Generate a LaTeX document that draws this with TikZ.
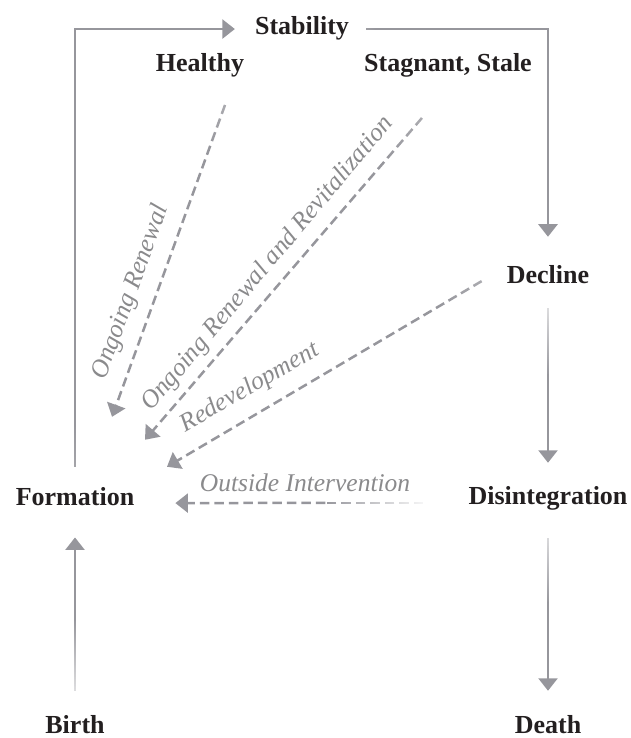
\documentclass[tikz,border=0pt]{standalone}
\usepackage{fontspec}
\setmainfont{Liberation Serif}
\usetikzlibrary{arrows.meta,calc,fadings}

\definecolor{flowgray}{RGB}{150,150,156}
\definecolor{notegray}{RGB}{138,138,140}
\definecolor{stageblack}{RGB}{35,31,32}

\pgfdeclareverticalshading{startfade}{100bp}{color(0bp)=(white); color(68bp)=(white); color(100bp)=(black!92)}
\tikzfading[name=fade top, shading=startfade]
\tikzfading[name=fade bottom, shading=startfade, shading angle=180]
\tikzfading[name=fade left, shading=startfade, shading angle=90]
\tikzfading[name=ramp top, top color=transparent!92, bottom color=transparent!0]
\tikzfading[name=ramp bottom, bottom color=transparent!92, top color=transparent!0]
\tikzfading[name=ramp right, right color=transparent!92, left color=transparent!0]

\begin{document}
\begin{tikzpicture}[
    x=1pt, y=-1pt,
    stage/.style={
        anchor=base,
        inner sep=0pt,
        text=stageblack,
        font=\fontsize{26}{30}\selectfont\bfseries
    },
    note/.style={
        inner sep=0pt,
        text=notegray,
        font=\fontsize{25.5}{30}\selectfont\itshape
    },
    flowline/.style={draw=flowgray, line width=2.5pt},
    flow/.style={flowline, -{Triangle[length=12.5pt, width=19pt]}},
    renewalline/.style={flowline, dash pattern=on 9.5pt off 5pt},
    renewal/.style={flow, dash pattern=on 9.5pt off 5pt}
]
\useasboundingbox (0,0) rectangle (630,738);

\node[stage] (stability) at (302,35) {Stability};
\node[stage] (healthy) at (200,72) {Healthy};
\node[stage] (stagnant) at (448,72) {Stagnant, Stale};
\node[stage] (decline) at (548,283) {Decline};
\node[stage] (disintegration) at (548,504) {Disintegration};
\node[stage] (formation) at (75,505) {Formation};
\node[stage] (birth) at (75,733) {Birth};
\node[stage] (death) at (548,733) {Death};

\node[note, rotate=70] (renewal) at (131,292) {Ongoing Renewal};
\node[note, rotate=50] (revitalization) at (268,264) {Ongoing Renewal and Revitalization};
\node[note, rotate=30] (redevelopment) at (250,388) {Redevelopment};
\node[note] (intervention) at (305,483) {Outside Intervention};

\draw[flow, path fading=fade bottom, shorten <=20pt, shorten >=20pt] (formation.north) |- (stability.west);
\draw[flow, path fading=fade left, shorten <=17pt, shorten >=28pt] (stability.east) -| (decline.north);

\coordinate (declinemid) at ($(decline.south)!0.45!(disintegration.north)$);
\draw[flowline, path fading=ramp top, shorten <=25pt] (decline.south) -- (declinemid);
\draw[flow, shorten >=23pt] (declinemid) -- (disintegration.north);

\coordinate (deathmid) at ($(disintegration.south)!0.45!(death.north)$);
\draw[flowline, path fading=ramp top, shorten <=28pt] (disintegration.south) -- (deathmid);
\draw[flow, shorten >=24pt] (deathmid) -- (death.north);

\coordinate (birthmid) at ($(birth.north)!0.45!(formation.south)$);
\draw[flowline, path fading=ramp bottom, shorten <=24pt] (birth.north) -- (birthmid);
\draw[flow, shorten >=32pt] (birthmid) -- (formation.south);

\draw[renewal, path fading=fade top] ($(healthy.south)+(25,27)$) -- ($(formation.north)+(37,-70)$);
\draw[renewal, path fading=fade top] ($(stagnant.south)+(-26,40)$) -- ($(formation.north)+(70,-47)$);
\draw[renewal, path fading=fade top] ($(decline.west)+(-25,7)$) -- ($(formation.north)+(92,-20)$);

\coordinate (interventionstart) at ($(disintegration.west)+(-45,5)$);
\coordinate (interventionmid) at ($(disintegration.west)+(-143,5)$);
\draw[renewalline, path fading=ramp right] (interventionstart) -- (interventionmid);
\draw[renewal] (interventionmid) -- ($(formation.east)+(41,7)$);
\end{tikzpicture}
\end{document}
